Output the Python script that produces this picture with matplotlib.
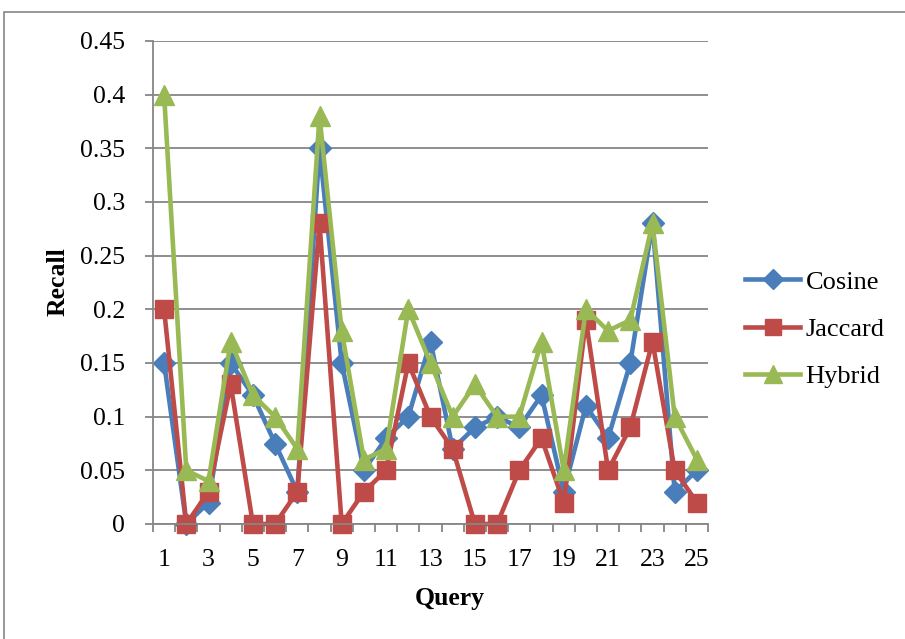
import matplotlib
matplotlib.use("Agg")
import matplotlib.pyplot as plt
from matplotlib.patches import Rectangle

plt.rcParams['font.family'] = ['Liberation Serif', 'DejaVu Serif']

queries = list(range(1, 26))
cosine = [0.15, 0.0, 0.02, 0.15, 0.12, 0.075, 0.03, 0.35, 0.15, 0.05,
          0.08, 0.10, 0.17, 0.07, 0.09, 0.10, 0.09, 0.12, 0.03, 0.11,
          0.08, 0.15, 0.28, 0.03, 0.05]
jaccard = [0.20, 0.0, 0.03, 0.13, 0.0, 0.0, 0.03, 0.28, 0.0, 0.03,
           0.05, 0.15, 0.10, 0.07, 0.0, 0.0, 0.05, 0.08, 0.02, 0.19,
           0.05, 0.09, 0.17, 0.05, 0.02]
hybrid = [0.40, 0.05, 0.04, 0.17, 0.12, 0.10, 0.07, 0.38, 0.18, 0.06,
          0.07, 0.20, 0.15, 0.10, 0.13, 0.10, 0.10, 0.17, 0.05, 0.20,
          0.18, 0.19, 0.28, 0.10, 0.06]

y_ticks = [0, 0.05, 0.1, 0.15, 0.2, 0.25, 0.3, 0.35, 0.4, 0.45]
y_labels = ['0', '0.05', '0.1', '0.15', '0.2', '0.25', '0.3', '0.35', '0.4', '0.45']
x_labels = [str(q) for q in queries[::2]]

grey = '#868686'

fig = plt.figure(figsize=(9.05, 6.39), dpi=100)
# chart area border (cropped on the right and bottom in the original)
fig.patches.append(Rectangle((4 / 905, -0.2), 1.2, 0.2 + 1 - 12 / 639,
                             transform=fig.transFigure, fill=False,
                             edgecolor=grey, lw=1.2))

ax = fig.add_axes([153 / 905, 1 - 524 / 639, (708 - 153) / 905, (524 - 41) / 639])

series = [
    ('Cosine', cosine, '#4A7EBB', 'D', 11),
    ('Jaccard', jaccard, '#BE4B48', 's', 13.5),
    ('Hybrid', hybrid, '#98B954', '^', 14.5),
]
for name, vals, col, mk, ms in series:
    ax.plot(queries, vals, color=col, lw=3.3, marker=mk, ms=ms,
            markerfacecolor=col, markeredgecolor=col, mew=1, label=name,
            clip_on=False)

ax.set_xlim(0.5, 25.5)
ax.set_ylim(0, 0.45)

ax.set_yticks(y_ticks)
ax.set_yticklabels(y_labels)
ax.yaxis.grid(True, color=grey, lw=1.3)
ax.set_axisbelow(True)

# tick marks between categories, labels on every other query
ax.set_xticks([q + 0.5 for q in [0] + queries])
ax.set_xticklabels([])
ax.set_xticks(queries[::2], minor=True)
ax.set_xticklabels(x_labels, minor=True)
ax.tick_params(axis='x', which='major', length=6, width=1.3, color=grey)
ax.tick_params(axis='x', which='minor', length=0, pad=18, labelsize=18.5)
ax.tick_params(axis='y', length=6, width=1.3, color=grey, pad=14, labelsize=18.5)

for side in ['top', 'right']:
    ax.spines[side].set_visible(False)
for side in ['left', 'bottom']:
    ax.spines[side].set_color(grey)
    ax.spines[side].set_linewidth(1.3)

fig.text(450 / 905, 1 - 598 / 639, 'Query', ha='center', va='center',
         fontsize=18.5, fontweight='bold')
fig.text(58 / 905, 1 - 282 / 639, 'Recall', ha='center', va='center',
         rotation=90, fontsize=18.5, fontweight='bold')

ax.legend(loc='center left', bbox_to_anchor=(745 / 905, 1 - 329 / 639),
          bbox_transform=fig.transFigure, frameon=False, fontsize=19,
          handlelength=2.1, handletextpad=0.2, labelspacing=0.9,
          borderpad=0, borderaxespad=0, markerscale=0.9)

fig.savefig('out.png', dpi=100)
